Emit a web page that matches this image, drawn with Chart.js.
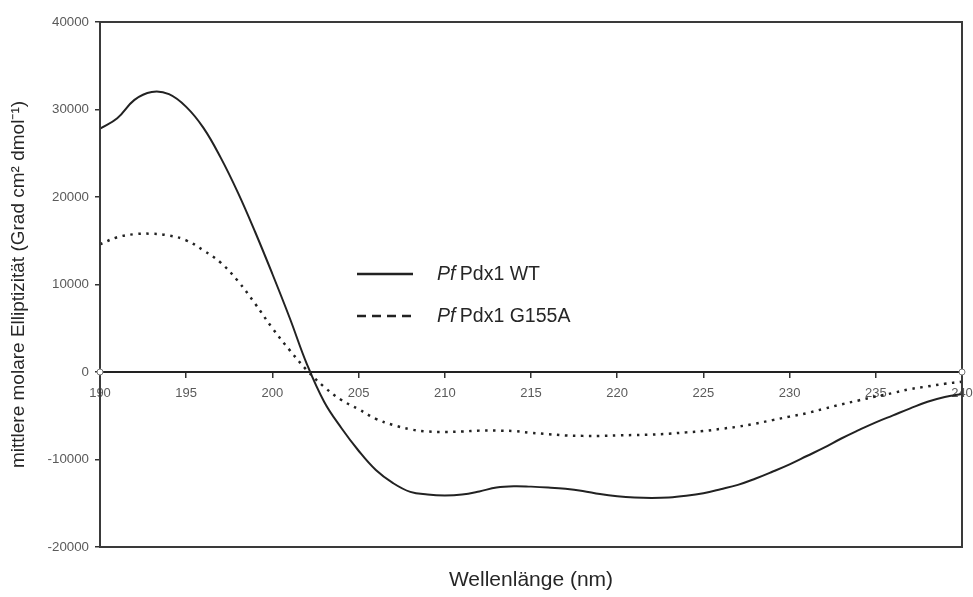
<!DOCTYPE html>
<html><head><meta charset="utf-8">
<script src="https://cdn.jsdelivr.net/npm/chart.js@4.4.0/dist/chart.umd.min.js"></script>
<style>html,body{margin:0;padding:0;background:#fff}#wrap{width:973px;height:597px}</style>
</head><body><div id="wrap"><canvas id="c" width="973" height="597"></canvas></div>
<script>
const wavelengths = [190,191,192,193,194,195,196,197,198,199,200,201,202,203,204,205,206,207,208,209,210,211,212,213,214,215,216,217,218,219,220,221,222,223,224,225,226,227,228,229,230,231,232,233,234,235,236,237,238,239,240];
const wtValues = [27800,29000,31100,32000,31750,30300,27900,24500,20500,16000,11200,6200,900,-3400,-6400,-9000,-11200,-12700,-13700,-14000,-14100,-14000,-13650,-13200,-13050,-13100,-13200,-13350,-13600,-13950,-14200,-14350,-14400,-14350,-14150,-13850,-13400,-12900,-12200,-11400,-10550,-9600,-8650,-7600,-6650,-5750,-4950,-4150,-3400,-2850,-2500];
const g155aValues = [14600,15400,15750,15800,15600,15050,13900,12500,10400,7800,5000,2500,200,-1700,-3200,-4250,-5350,-6050,-6550,-6800,-6850,-6800,-6700,-6700,-6750,-6950,-7100,-7250,-7300,-7300,-7250,-7200,-7150,-7050,-6900,-6750,-6500,-6250,-5900,-5500,-5100,-4700,-4200,-3700,-3250,-2800,-2400,-1950,-1650,-1350,-1100];
const yTickValues = [-20000,-10000,0,10000,20000,30000,40000];
const xTickValues = [190,195,200,205,210,215,220,225,230,235,240];
const seriesPrefix = 'Pf';
const seriesNames = ['Pdx1 WT','Pdx1 G155A'];
const xTitle = 'Wellenlänge (nm)';
const yTitle = 'mittlere molare Elliptizität (Grad cm² dmol⁻¹)';

const FONT = "'Liberation Sans', Arial, Helvetica, sans-serif";
const ink = '#262626';

const toPoints = vals => wavelengths.map((w, i) => ({x: w, y: vals[i]}));

const framePlugin = {
  id: 'frame',
  afterDraw(chart) {
    const {ctx, chartArea: a, scales} = chart;
    ctx.save();
    ctx.strokeStyle = '#3a3a3a';
    ctx.lineWidth = 2;
    ctx.strokeRect(a.left, a.top, a.right - a.left, a.bottom - a.top);
    const y0 = scales.y.getPixelForValue(0);
    [scales.x.min, scales.x.max].forEach(v => {
      const px = scales.x.getPixelForValue(v);
      ctx.beginPath();
      ctx.arc(px, y0, 3, 0, Math.PI * 2);
      ctx.fillStyle = '#fff';
      ctx.fill();
      ctx.lineWidth = 1;
      ctx.strokeStyle = '#777';
      ctx.stroke();
    });
    ctx.restore();
  }
};

const legendPlugin = {
  id: 'inlineLegend',
  afterDraw(chart, args, opts) {
    const {ctx} = chart;
    ctx.save();
    chart.data.datasets.forEach((ds, i) => {
      const y = opts.y + i * opts.gap;
      ctx.beginPath();
      ctx.strokeStyle = ds.borderColor;
      ctx.lineWidth = 2.5;
      ctx.setLineDash(opts.dashes[i]);
      ctx.moveTo(opts.x, y);
      ctx.lineTo(opts.x + opts.len, y);
      ctx.stroke();
      ctx.setLineDash([]);
      ctx.fillStyle = ink;
      ctx.textBaseline = 'middle';
      ctx.font = `italic ${opts.size}px ${FONT}`;
      const tx = opts.x + opts.len + opts.textGap;
      ctx.fillText(seriesPrefix, tx, y + 1);
      const w = ctx.measureText(seriesPrefix + ' ').width;
      ctx.font = `${opts.size}px ${FONT}`;
      ctx.fillText(seriesNames[i], tx + w - 1, y + 1);
    });
    ctx.restore();
  }
};

new Chart(document.getElementById('c'), {
  type: 'line',
  data: {
    datasets: [
      {label: seriesPrefix + ' ' + seriesNames[0], data: toPoints(wtValues), borderColor: '#222', borderWidth: 2, pointRadius: 0, tension: 0.4, fill: false},
      {label: seriesPrefix + ' ' + seriesNames[1], data: toPoints(g155aValues), borderColor: '#222', borderWidth: 2.5, borderDash: [2.5, 5.5], pointRadius: 0, tension: 0.4, fill: false}
    ]
  },
  options: {
    responsive: false,
    animation: false,
    devicePixelRatio: 1,
    layout: {padding: {top: 22, right: 11, bottom: 0, left: 0}},
    plugins: {
      legend: {display: false},
      tooltip: {enabled: false},
      title: {display: false},
      inlineLegend: {x: 357, y: 274, gap: 42, len: 56, textGap: 24, size: 19.5, dashes: [[], [9, 6]]}
    },
    scales: {
      x: {
        type: 'linear', min: 190, max: 240,
        position: {y: 0},
        afterBuildTicks: s => { s.ticks = xTickValues.map(v => ({value: v})); },
        afterFit: s => { s.paddingLeft = 0; s.paddingRight = 0; },
        ticks: {color: '#5a5a5a', font: {family: FONT, size: 13}, padding: 9, maxRotation: 0, autoSkip: false, callback: v => String(v)},
        grid: {drawOnChartArea: false, drawTicks: true, tickLength: 5, color: '#333', lineWidth: 1.5},
        border: {display: true, color: '#222', width: 2}
      },
      xt: {
        type: 'linear', min: 190, max: 240,
        position: 'bottom',
        afterFit: s => { s.height = 50; s.paddingLeft = 0; s.paddingRight = 0; },
        ticks: {display: false},
        grid: {display: false, drawTicks: false},
        border: {display: false},
        title: {display: true, text: xTitle, color: ink, font: {family: FONT, size: 21}, padding: {top: 20, bottom: 4}}
      },
      y: {
        type: 'linear', min: -20000, max: 40000,
        afterBuildTicks: s => { s.ticks = yTickValues.map(v => ({value: v})); },
        afterFit: s => { s.width = 100; },
        ticks: {color: '#5a5a5a', font: {family: FONT, size: 13.3}, padding: 6, callback: v => String(v)},
        grid: {drawOnChartArea: false, drawTicks: true, tickLength: 5, color: '#333', lineWidth: 1.5},
        border: {display: true, color: '#333', width: 2},
        title: {display: true, text: yTitle, color: ink, font: {family: FONT, size: 19}, padding: {top: 7, bottom: 0}}
      }
    }
  },
  plugins: [framePlugin, legendPlugin]
});
</script>
</body></html>
